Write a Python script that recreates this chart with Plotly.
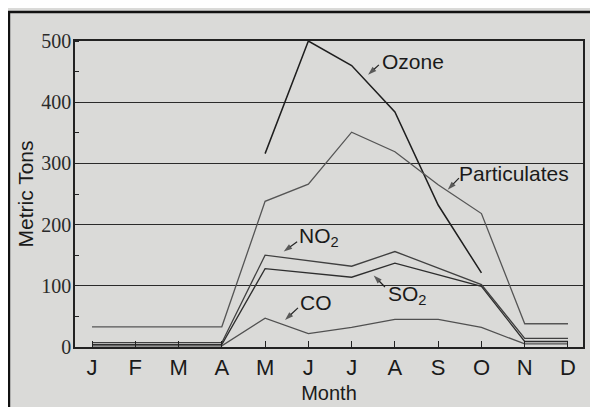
import plotly.graph_objects as go

months = ["J", "F", "M", "A", "M", "J", "J", "A", "S", "O", "N", "D"]
ozone = [None, None, None, None, 316, 500, 460, 384, 232, 121, None, None]
particulates = [33, 33, 33, 33, 238, 266, 351, 319, 265, 218, 38, 38]
no2 = [7, 7, 7, 7, 150, 141, 132, 156, 129, 102, 14, 14]
so2 = [4, 4, 4, 4, 128, 121, 114, 137, 118, 99, 9, 9]
co = [2, 2, 2, 2, 47, 22, 32, 45, 45, 32, 5, 5]
y_ticks = [0, 100, 200, 300, 400, 500]

x = list(range(len(months)))
bg = "#dadad8"

fig = go.Figure()
series = [
    (ozone, "#1e1e1e", 1.5),
    (particulates, "#555555", 1.3),
    (no2, "#404040", 1.3),
    (so2, "#2e2e2e", 1.3),
    (co, "#505050", 1.3),
]
for vals, col, w in series:
    fig.add_trace(go.Scatter(x=x, y=vals, mode="lines", line=dict(color=col, width=w),
                             showlegend=False, hoverinfo="skip"))

# label arrows (tail -> head)
arrows = [
    (6.63, 461, 6.38, 445),
    (8.48, 276, 8.22, 257),
    (4.74, 172, 4.43, 156),
    (6.77, 98, 6.51, 117),
    (4.76, 64, 4.46, 44),
]
for tx, ty, hx, hy in arrows:
    fig.add_trace(go.Scatter(x=[tx, hx], y=[ty, hy], mode="lines+markers",
                             line=dict(color="#222", width=1.2),
                             marker=dict(symbol=["circle", "arrow"], size=[0, 9],
                                         angleref="previous", color="#222",
                                         line=dict(width=0)),
                             showlegend=False, hoverinfo="skip"))

lab_font = dict(family="Liberation Sans, Arial, sans-serif", size=21, color="#1a1a1a")
labels = [
    ("Ozone", 7.42, 467),
    ("Particulates", 9.75, 284),
    ("NO<sub>2</sub>", 5.25, 180),
    ("SO<sub>2</sub>", 7.3, 85),
    ("CO", 5.18, 72),
]
for t, lx, ly in labels:
    fig.add_annotation(x=lx, y=ly, text=t, showarrow=False, font=lab_font)

# outer frame
fig.add_shape(type="rect", xref="paper", yref="paper", x0=-0.13, x1=1.06, y0=-0.3, y1=1.095,
              line=dict(color="#111", width=2.5), fillcolor="rgba(0,0,0,0)", layer="below")

fig.update_layout(
    width=598, height=407,
    margin=dict(l=67, r=23, t=33, b=68),
    paper_bgcolor=bg, plot_bgcolor=bg,
    xaxis=dict(range=[-0.393, 11.347], tickmode="array", tickvals=x, ticktext=months,
               ticks="inside", ticklen=6, tickcolor="#222", tickwidth=1.3,
               showline=True, linecolor="#222", linewidth=1.5, mirror=True,
               showgrid=False, zeroline=False,
               tickfont=dict(family="Liberation Sans, Arial, sans-serif", size=22, color="#1a1a1a"),
               title=dict(text="Month", standoff=7,
                          font=dict(family="Liberation Sans, Arial, sans-serif", size=20, color="#1a1a1a"))),
    yaxis=dict(range=[0, 500], tickmode="array", tickvals=y_ticks,
               ticks="", showline=True, linecolor="#222", linewidth=1.5, mirror=True,
               showgrid=True, gridcolor="#2a2a2a", gridwidth=1, zeroline=False,
               ticklabelstandoff=-2,
               minor=dict(dtick=50, ticks="inside", ticklen=4, tickcolor="#222", showgrid=False),
               tickfont=dict(family="Liberation Serif, Times New Roman, serif", size=20, color="#2a2a2a"),
               title=dict(text="Metric Tons", standoff=2,
                          font=dict(family="Liberation Sans, Arial, sans-serif", size=21, color="#1a1a1a"))),
)

fig.write_html("out.html")
